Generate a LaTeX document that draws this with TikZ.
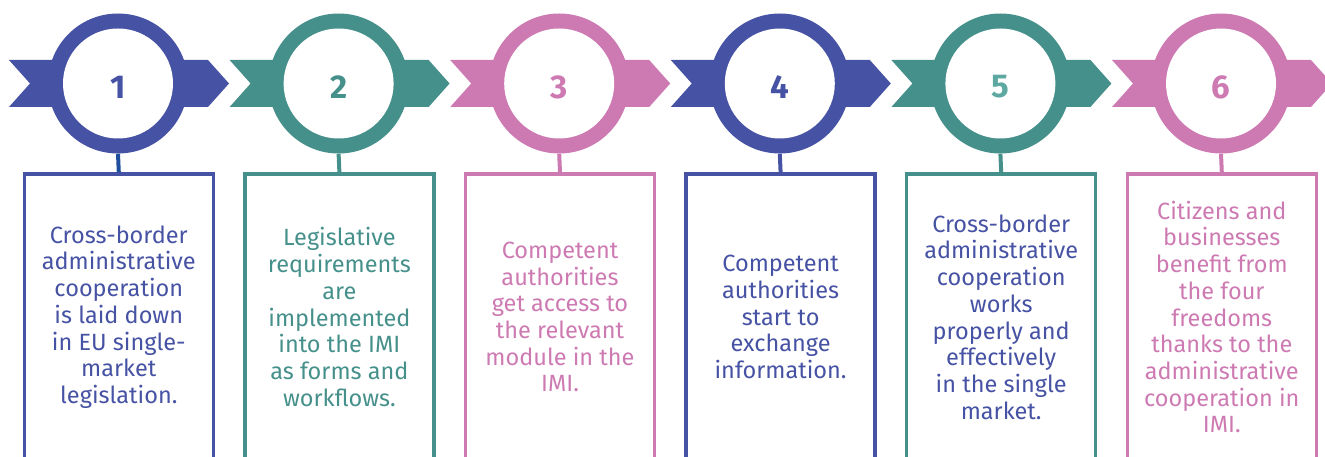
\documentclass[tikz,border=0pt]{standalone}
\usepackage{fontspec}
\setmainfont{Fira Sans}
\definecolor{cblue}{HTML}{4652A3}
\definecolor{cteal}{HTML}{45908B}
\definecolor{cpink}{HTML}{CD7AB2}
\definecolor{clteal}{HTML}{5EA8A2}
\definecolor{cdblue}{HTML}{1F4E9E}
\tikzset{
  ringnode/.style={circle, minimum size=140pt, inner sep=0pt},
  numtext/.style={font=\fontsize{33}{33}\selectfont\bfseries, inner sep=0pt},
  stepbox/.style={draw, line width=3.3pt, minimum width=189pt, minimum height=296pt, inner sep=0pt},
  steptext/.style={align=center, inner sep=0pt, font=\fontsize{23.5}{26.7}\selectfont},
  link/.style={line width=4pt}
}
\begin{document}
\begin{tikzpicture}[x=1pt,y=-1pt]
\useasboundingbox (0,0) rectangle (1325,457);
\clip (0,0) rectangle (1325,457);
\foreach \i/\c/\nc/\tc/\lc/\txt in {
  1/cblue/cblue/cblue/cdblue/{Cross-border\\administrative\\cooperation\\is laid down\\in EU single-\\market\\legislation.},
  2/cteal/cteal/cteal/cteal/{Legislative\\requirements\\are\\implemented\\into the IMI\\as forms and\\workflows.},
  3/cpink/cpink/cpink/cpink/{Competent\\authorities\\get access to\\the relevant\\module in the\\IMI.},
  4/cblue/cblue/cblue/cblue/{Competent\\authorities\\start to\\exchange\\information.},
  5/cteal/clteal/cblue/cteal/{Cross-border\\administrative\\cooperation\\works\\properly and\\effectively\\in the single\\market.},
  6/cpink/cpink/cpink/cpink/{Citizens and\\businesses\\benefit from\\the four\\freedoms\\thanks to the\\administrative\\cooperation in\\IMI.}}
{
  \pgfmathsetmacro{\cx}{118+220.6*(\i-1)}
  \fill[\c] (\cx-109,60) -- (\cx+90,60) -- (\cx+111,83.5) -- (\cx+90,107)
        -- (\cx-109,107) -- (\cx-88,83.5) -- cycle;
  \node[ringnode, fill=\c] (ring\i) at (\cx,83.5) {};
  \fill[white] (ring\i.center) circle (55);
  \node[numtext, text=\nc] (num\i) at (\cx,87) {\i};
  \node[stepbox, draw=\c] (box\i) at (\cx+0.8,322) {};
  \draw[link, \lc] (ring\i.south) -- (box\i.north);
  \node[steptext, text=\tc] (txt\i) at (\cx+0.8,317) {\txt};
}
\end{tikzpicture}
\end{document}
